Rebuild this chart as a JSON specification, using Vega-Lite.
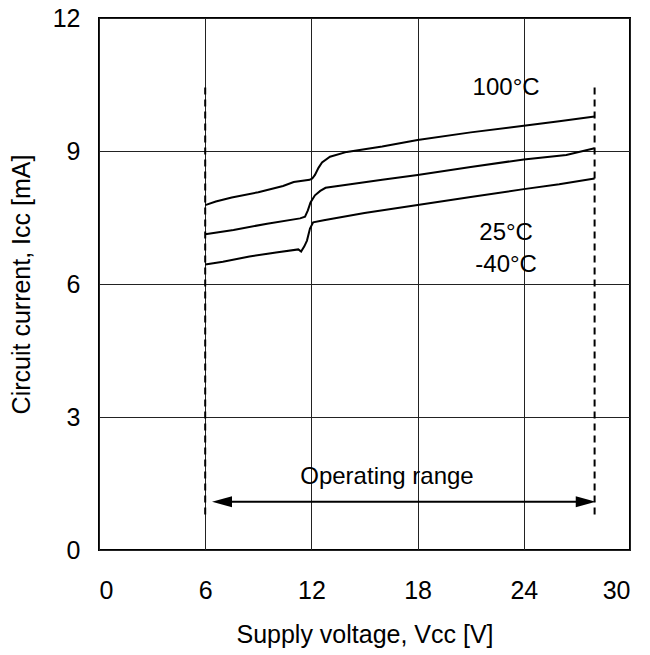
{
  "$schema": "https://vega.github.io/schema/vega-lite/v6.json",
  "width": 531,
  "height": 532,
  "autosize": {"type": "none"},
  "padding": {"left": 99, "top": 18, "right": 20, "bottom": 105},
  "background": "white",
  "config": {
    "font": "Liberation Sans",
    "view": {"stroke": "black", "strokeWidth": 2},
    "axis": {
      "grid": true,
      "gridColor": "#222222",
      "gridWidth": 1,
      "gridOpacity": 1,
      "domain": false,
      "ticks": false,
      "labelFont": "Liberation Sans",
      "labelFontSize": 25,
      "labelColor": "black",
      "titleFont": "Liberation Sans",
      "titleFontSize": 25,
      "titleFontWeight": "normal",
      "titleColor": "black"
    }
  },
  "datasets": {
    "curves": [
      {"s": "100", "v": 6.0, "i": 7.78},
      {"s": "100", "v": 6.6, "i": 7.86},
      {"s": "100", "v": 7.5, "i": 7.95},
      {"s": "100", "v": 9.0, "i": 8.07},
      {"s": "100", "v": 10.4, "i": 8.21},
      {"s": "100", "v": 11.0, "i": 8.3},
      {"s": "100", "v": 11.9, "i": 8.35},
      {"s": "100", "v": 12.05, "i": 8.38},
      {"s": "100", "v": 12.2, "i": 8.46},
      {"s": "100", "v": 12.4, "i": 8.62},
      {"s": "100", "v": 12.6, "i": 8.74},
      {"s": "100", "v": 13.05, "i": 8.87},
      {"s": "100", "v": 14.0, "i": 8.98},
      {"s": "100", "v": 16.0, "i": 9.1},
      {"s": "100", "v": 18.0, "i": 9.25},
      {"s": "100", "v": 21.0, "i": 9.42},
      {"s": "100", "v": 24.0, "i": 9.57},
      {"s": "100", "v": 26.0, "i": 9.67},
      {"s": "100", "v": 28.0, "i": 9.78},
      {"s": "25", "v": 6.0, "i": 7.12},
      {"s": "25", "v": 7.6, "i": 7.22},
      {"s": "25", "v": 9.5, "i": 7.36},
      {"s": "25", "v": 11.36, "i": 7.48},
      {"s": "25", "v": 11.64, "i": 7.52},
      {"s": "25", "v": 11.8, "i": 7.66},
      {"s": "25", "v": 11.95, "i": 7.84},
      {"s": "25", "v": 12.2, "i": 8.0},
      {"s": "25", "v": 12.5, "i": 8.1},
      {"s": "25", "v": 12.8, "i": 8.17},
      {"s": "25", "v": 14.2, "i": 8.25},
      {"s": "25", "v": 16.0, "i": 8.35},
      {"s": "25", "v": 18.0, "i": 8.46},
      {"s": "25", "v": 21.0, "i": 8.64},
      {"s": "25", "v": 24.0, "i": 8.81},
      {"s": "25", "v": 26.4, "i": 8.91},
      {"s": "25", "v": 28.0, "i": 9.06},
      {"s": "-40", "v": 6.0, "i": 6.44},
      {"s": "-40", "v": 7.0, "i": 6.5},
      {"s": "-40", "v": 8.5, "i": 6.62},
      {"s": "-40", "v": 10.0, "i": 6.71},
      {"s": "-40", "v": 11.26, "i": 6.78},
      {"s": "-40", "v": 11.42, "i": 6.73},
      {"s": "-40", "v": 11.6, "i": 6.85},
      {"s": "-40", "v": 11.75, "i": 6.98},
      {"s": "-40", "v": 11.92, "i": 7.25},
      {"s": "-40", "v": 12.1, "i": 7.39},
      {"s": "-40", "v": 12.7, "i": 7.44},
      {"s": "-40", "v": 15.0, "i": 7.6},
      {"s": "-40", "v": 18.0, "i": 7.78},
      {"s": "-40", "v": 21.0, "i": 7.96},
      {"s": "-40", "v": 24.0, "i": 8.14},
      {"s": "-40", "v": 26.0, "i": 8.25},
      {"s": "-40", "v": 28.0, "i": 8.38}
    ],
    "bounds": [
      {"v": 6, "lo": 0.8, "hi": 10.45},
      {"v": 28, "lo": 0.8, "hi": 10.45}
    ],
    "arrow": [
      {"v1": 6.9, "v2": 27.5, "i": 1.09}
    ],
    "heads": [
      {"v": 6.95, "i": 1.09, "shape": "M-1,0L1,-0.55L1,0.55Z"},
      {"v": 27.5, "i": 1.09, "shape": "M1,0L-1,-0.55L-1,0.55Z"}
    ],
    "labels": [
      {"v": 23.0, "i": 10.42, "t": "100°C"},
      {"v": 23.0, "i": 7.15, "t": "25°C"},
      {"v": 23.0, "i": 6.43, "t": "-40°C"},
      {"v": 16.27, "i": 1.65, "t": "Operating range"}
    ]
  },
  "layer": [
    {
      "data": {"name": "curves"},
      "mark": {"type": "line", "color": "black", "strokeWidth": 2, "interpolate": "linear"},
      "encoding": {
        "x": {
          "field": "v", "type": "quantitative",
          "scale": {"domain": [0, 30], "nice": false, "zero": false},
          "axis": {"values": [0, 6, 12, 18, 24, 30], "title": "Supply voltage, Vcc [V]", "labelPadding": 28, "titlePadding": 19}
        },
        "y": {
          "field": "i", "type": "quantitative",
          "scale": {"domain": [0, 12], "nice": false},
          "axis": {"values": [0, 3, 6, 9, 12], "title": "Circuit current, Icc [mA]", "labelPadding": 19, "titlePadding": 18}
        },
        "detail": {"field": "s"}
      }
    },
    {
      "data": {"name": "bounds"},
      "mark": {"type": "rule", "color": "black", "strokeWidth": 2, "strokeDash": [7, 5]},
      "encoding": {
        "x": {"field": "v", "type": "quantitative"},
        "y": {"field": "lo", "type": "quantitative"},
        "y2": {"field": "hi"}
      }
    },
    {
      "data": {"name": "arrow"},
      "mark": {"type": "rule", "color": "black", "strokeWidth": 2},
      "encoding": {
        "x": {"field": "v1", "type": "quantitative"},
        "x2": {"field": "v2"},
        "y": {"field": "i", "type": "quantitative"}
      }
    },
    {
      "data": {"name": "heads"},
      "mark": {"type": "point", "filled": true, "color": "black", "opacity": 1, "size": 400, "strokeWidth": 0},
      "encoding": {
        "x": {"field": "v", "type": "quantitative"},
        "y": {"field": "i", "type": "quantitative"},
        "shape": {"field": "shape", "type": "nominal", "scale": null}
      }
    },
    {
      "data": {"name": "labels"},
      "mark": {"type": "text", "fontSize": 24, "color": "black", "align": "center", "baseline": "middle", "font": "Liberation Sans"},
      "encoding": {
        "x": {"field": "v", "type": "quantitative"},
        "y": {"field": "i", "type": "quantitative"},
        "text": {"field": "t"}
      }
    }
  ]
}
